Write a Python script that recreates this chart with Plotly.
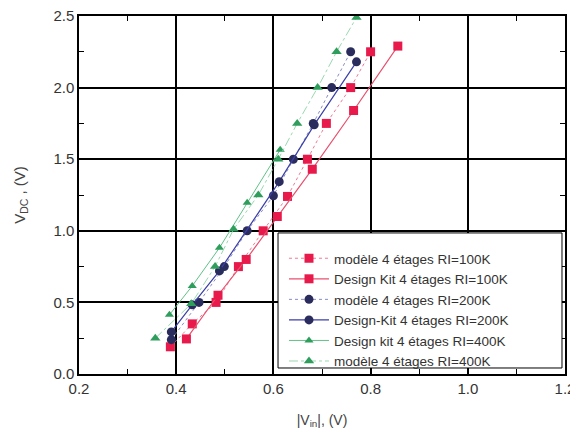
import plotly.graph_objects as go

# --- data ---
model_100k_x = [0.388, 0.433, 0.482, 0.528, 0.579, 0.629, 0.670, 0.709, 0.759, 0.800]
model_100k_y = [0.19, 0.35, 0.50, 0.75, 1.00, 1.24, 1.50, 1.75, 2.00, 2.25]
dk_100k_x = [0.421, 0.486, 0.544, 0.608, 0.680, 0.765, 0.856]
dk_100k_y = [0.245, 0.55, 0.80, 1.10, 1.43, 1.84, 2.29]

model_200k_x = [0.390, 0.447, 0.499, 0.546, 0.600, 0.641, 0.682, 0.720, 0.759]
model_200k_y = [0.24, 0.50, 0.75, 1.00, 1.245, 1.50, 1.75, 2.00, 2.25]
dk_200k_x = [0.390, 0.433, 0.489, 0.612, 0.684, 0.771]
dk_200k_y = [0.294, 0.483, 0.72, 1.343, 1.74, 2.18]

dk_400k_x = [0.386, 0.433, 0.489, 0.546, 0.614]
dk_400k_y = [0.413, 0.615, 0.881, 1.196, 1.566]
model_400k_x = [0.357, 0.431, 0.480, 0.518, 0.569, 0.610, 0.649, 0.691, 0.730, 0.771]
model_400k_y = [0.25, 0.49, 0.75, 1.01, 1.25, 1.50, 1.75, 2.00, 2.25, 2.49]

x_ticks = [0.2, 0.4, 0.6, 0.8, 1.0, 1.2]
y_ticks = [0.0, 0.5, 1.0, 1.5, 2.0, 2.5]

RED = "#e8194b"
NAVY = "#2a2c5e"
BLUE_LINE = "#3b3fa8"
GREEN = "#2f9e5c"
FONT = "Liberation Sans, Arial"

fig = go.Figure()

fig.add_trace(go.Scatter(
    x=model_100k_x, y=model_100k_y, mode="lines+markers",
    name="modèle 4 étages RI=100K",
    line=dict(color="#f07a95", width=1, dash="dot"),
    marker=dict(symbol="square", size=9, color=RED)))
fig.add_trace(go.Scatter(
    x=dk_100k_x, y=dk_100k_y, mode="lines+markers",
    name="Design Kit 4 étages RI=100K",
    line=dict(color="#e8506e", width=1.2),
    marker=dict(symbol="square", size=9, color=RED)))
fig.add_trace(go.Scatter(
    x=model_200k_x, y=model_200k_y, mode="lines+markers",
    name="modèle 4 étages RI=200K",
    line=dict(color="#8a8cc0", width=1, dash="dot"),
    marker=dict(symbol="circle", size=9, color=NAVY)))
fig.add_trace(go.Scatter(
    x=dk_200k_x, y=dk_200k_y, mode="lines+markers",
    name="Design-Kit 4 étages RI=200K",
    line=dict(color=BLUE_LINE, width=1.2),
    marker=dict(symbol="circle", size=9, color=NAVY)))
fig.add_trace(go.Scatter(
    x=dk_400k_x, y=dk_400k_y, mode="lines+markers",
    name="Design kit 4 étages RI=400K",
    line=dict(color="#5fc287", width=1),
    marker=dict(symbol="triangle-up", size=8, color=GREEN)))
fig.add_trace(go.Scatter(
    x=model_400k_x, y=model_400k_y, mode="lines+markers",
    name="modèle 4 étages RI=400K",
    line=dict(color="#9ad9b0", width=1, dash="dashdot"),
    marker=dict(symbol="triangle-up", size=9, color=GREEN)))

axis_common = dict(
    showgrid=True, gridcolor="black", gridwidth=1.5,
    showline=True, linecolor="black", linewidth=1.5, mirror="ticks",
    ticks="inside", ticklen=6, tickcolor="black",
    zeroline=False, automargin=False, ticklabeloverflow="allow",
    tickfont=dict(family=FONT, size=15, color="#333"),
)

fig.update_xaxes(
    range=[0.2, 1.2], tickvals=x_ticks, ticktext=[f"{v:.1f}" for v in x_ticks],
    minor=dict(ticks="inside", dtick=0.1, ticklen=5, tickcolor="black", showgrid=False),
    title=dict(text="|V<sub>in</sub>|, (V)", font=dict(family=FONT, size=14, color="#444"), standoff=19),
    **axis_common)
fig.update_yaxes(
    range=[0.0, 2.5], tickvals=y_ticks, ticktext=[f"{v:.1f}" for v in y_ticks],
    minor=dict(ticks="inside", dtick=0.25, ticklen=5, tickcolor="black", showgrid=False),
    title=dict(text="V<sub>DC</sub> , (V)", font=dict(family=FONT, size=15, color="#444"), standoff=24),
    **axis_common)

# legend frame (white box with black border) behind the legend entries
fig.add_shape(type="rect", xref="paper", yref="paper",
              x0=0.4095, x1=0.9938, y0=0.0168, y1=0.394,
              fillcolor="white", line=dict(color="black", width=1), layer="above")

# the page body adds an 8px offset, so the figure is sized/margined to compensate
fig.update_layout(
    width=570, height=431,
    margin=dict(l=71, r=13, t=8, b=65),
    plot_bgcolor="white", paper_bgcolor="white",
    legend=dict(
        x=0.4218, y=0.366, xanchor="left", yanchor="top",
        bgcolor="rgba(0,0,0,0)", borderwidth=0,
        font=dict(family=FONT, size=13.5, color="#333"),
        tracegroupgap=0, itemwidth=40,
    ),
    showlegend=True,
)

fig.write_html("out.html")
